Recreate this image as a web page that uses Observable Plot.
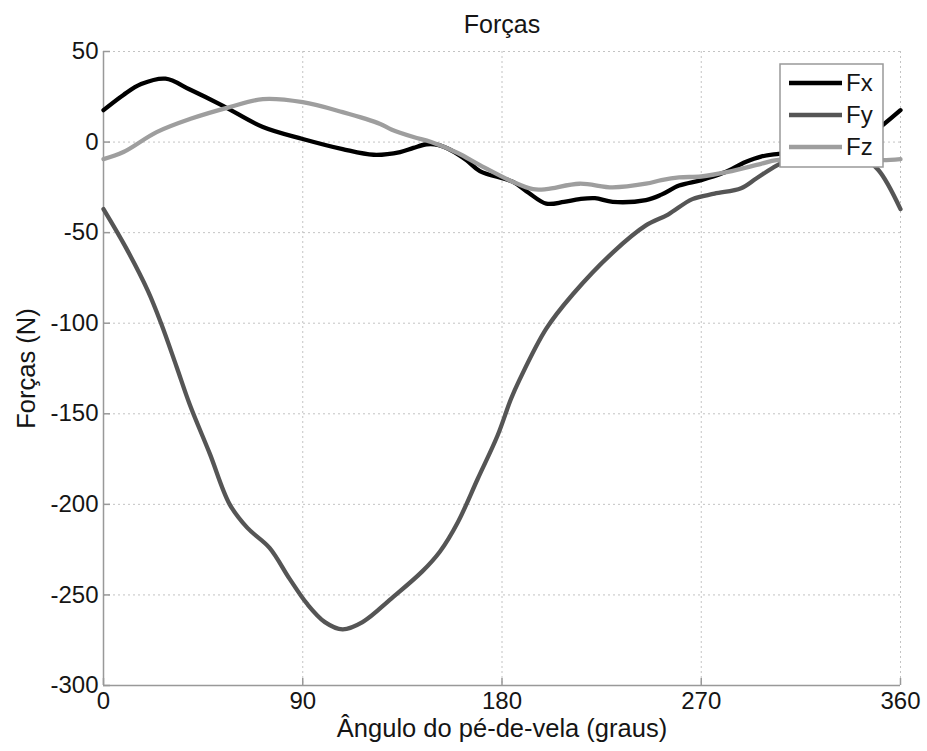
<!DOCTYPE html>
<html>
<head>
<meta charset="utf-8">
<script src="https://cdn.jsdelivr.net/npm/d3@7"></script>
<script src="https://cdn.jsdelivr.net/npm/@observablehq/plot@0.6"></script>
<style>
  html, body { margin: 0; padding: 0; background: #fff; }
  #chart { position: relative; width: 927px; height: 751px; }
</style>
</head>
<body>
<div id="chart"></div>
<script>
// ---- Data ----
const titleText = "Forças";
const xLabel = "Ângulo do pé-de-vela (graus)";
const yLabel = "Forças (N)";
const seriesNames = ["Fx", "Fy", "Fz"];
const seriesColors = ["#000000", "#555555", "#9e9e9e"];
const xTicks = [0, 90, 180, 270, 360];
const yTicks = [-300, -250, -200, -150, -100, -50, 0, 50];

const fxAngle = [0, 9, 17, 28, 39, 54, 72, 90, 108, 122, 134, 140, 146, 151, 157, 164, 170, 185, 192, 200, 208, 215, 222, 230, 245, 252, 260, 270, 280, 290, 297, 305, 315, 330, 345, 352, 360];
const fxValue = [17.6, 26, 32, 35, 29, 20, 8.3, 1.7, -3.9, -7, -5.5, -3.2, -1.2, -1.5, -4.5, -10, -16, -22, -28, -34, -33, -31.5, -31, -33, -32, -29, -24, -21, -17, -11, -8, -6.5, -5, -2, 3, 9.4, 17.6];

const fyAngle = [0, 10, 20, 26, 33, 39, 48, 57, 65, 75, 84, 92, 100, 108, 117, 130, 144, 152, 160, 169, 178, 184, 188, 200, 212, 230, 245, 255, 266, 276, 288, 295, 304, 315, 330, 342, 350, 360];
const fyValue = [-37, -58, -82, -100, -124, -145, -172, -200, -213, -224, -241, -255, -265, -269, -265, -252, -237, -226, -210, -186, -162, -142, -131, -103, -84, -61, -46, -40, -31.5, -28.5, -25.5, -20, -13, -7, -5, -8, -15.4, -37];

const fzAngle = [0, 9, 24, 39, 57, 72, 90, 108, 125, 130, 140, 148, 160, 170, 185, 194, 200, 215, 230, 245, 252, 260, 270, 282, 297, 304, 320, 340, 352, 360];
const fzValue = [-9.4, -5.5, 5.5, 12.7, 19.3, 23.7, 22, 16.5, 10, 7, 2.8, 0, -6, -12.7, -22, -26, -26, -23, -25, -23, -21, -19.5, -19, -16.5, -12, -10, -10, -10, -10, -9.4];

// ---- Build table ----
const rows = [];
[[fxAngle, fxValue], [fyAngle, fyValue], [fzAngle, fzValue]].forEach(([a, v], i) => {
  a.forEach((ang, j) => rows.push({series: seriesNames[i], angle: ang, value: v[j]}));
});

const W = 927, H = 751;
const mL = 103, mR = 27, mT = 51, mB = 66;
const plotW = W - mL - mR, plotH = H - mT - mB;
const font = "'Liberation Sans', Arial, Helvetica, sans-serif";
const fmt = d => String(d);
const ink = "#151515";

const chart = Plot.plot({
  width: W,
  height: H,
  marginLeft: mL,
  marginRight: mR,
  marginTop: mT,
  marginBottom: mB,
  style: {fontFamily: font, fontSize: "24px", background: "#fff", color: ink},
  x: {domain: [0, 360], ticks: xTicks},
  y: {domain: [-300, 50], ticks: yTicks},
  color: {domain: seriesNames, range: seriesColors},
  marks: [
    Plot.gridX(xTicks, {stroke: "#aaa", strokeOpacity: 0.7, strokeDasharray: "2,3"}),
    Plot.gridY(yTicks, {stroke: "#aaa", strokeOpacity: 0.7, strokeDasharray: "2,3"}),
    Plot.ruleX([0], {stroke: "#999", strokeWidth: 1.5}),
    Plot.ruleY([-300], {stroke: "#999", strokeWidth: 1.5}),
    Plot.tickX(xTicks, {x: d => d, stroke: "#999", strokeWidth: 1.5, insetTop: plotH - 7}),
    Plot.tickY(yTicks, {y: d => d, stroke: "#999", strokeWidth: 1.5, insetRight: plotW - 7}),
    Plot.axisX({ticks: xTicks, tickFormat: fmt, tickSize: 0, tickPadding: 6, label: null, fontSize: 24, fill: ink}),
    Plot.axisY({ticks: yTicks, tickFormat: fmt, tickSize: 0, tickPadding: 5, label: null, fontSize: 24, fill: ink}),
    Plot.line(rows, {x: "angle", y: "value", z: "series", stroke: "series", strokeWidth: 4.3, curve: "catmull-rom"}),
    Plot.text([titleText], {frameAnchor: "top", dy: -27, lineAnchor: "middle", textAnchor: "middle", fontSize: 25, fill: ink}),
    Plot.text([xLabel], {frameAnchor: "bottom", dy: 43, lineAnchor: "middle", textAnchor: "middle", fontSize: 25.5, fill: ink}),
    Plot.text([yLabel], {frameAnchor: "left", dx: -77, rotate: -90, lineAnchor: "middle", textAnchor: "middle", fontSize: 25.5, fill: ink})
  ]
});

// ---- Legend (drawn on top, opaque) ----
const svg = d3.select(chart);
const lg = svg.append("g").attr("class", "legend");
lg.append("rect").attr("x", 780).attr("y", 64).attr("width", 103).attr("height", 103)
  .attr("fill", "#fff").attr("stroke", "#999").attr("stroke-width", 1.5);
seriesNames.forEach((name, i) => {
  const yy = 83 + i * 32;
  lg.append("line").attr("x1", 789).attr("x2", 842).attr("y1", yy).attr("y2", yy)
    .attr("stroke", seriesColors[i]).attr("stroke-width", 4.5);
  lg.append("text").attr("x", 846).attr("y", yy).attr("dy", "0.35em")
    .attr("text-anchor", "start")
    .attr("font-family", font).attr("font-size", 24).attr("fill", ink).text(name);
});

document.getElementById("chart").appendChild(chart);
</script>
</body>
</html>
